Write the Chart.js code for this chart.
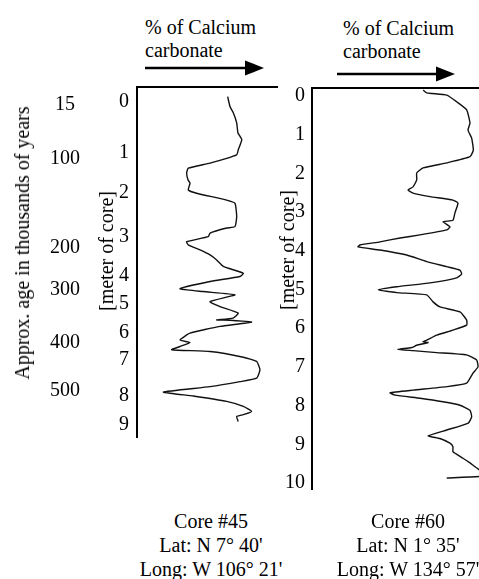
<!DOCTYPE html>
<html>
<head>
<meta charset="utf-8">
<title>Calcium carbonate in cores #45 and #60</title>
<script src="https://cdn.jsdelivr.net/npm/chart.js"></script>
<style>
  body { margin: 0; background: #fff; }
  #page { position: relative; width: 479px; height: 579px; overflow: hidden;
          font-family: "Liberation Serif", "Times New Roman", serif; color: #000; }
  .txt { position: absolute; font-size: 20px; line-height: 22px; white-space: nowrap; }
  .rot { transform: translate(-50%, -50%) rotate(-90deg); }
  .ctr { transform: translateX(-50%); text-align: center; line-height: 24px; }
  canvas { position: absolute; }
</style>
</head>
<body>
<div id="page">
  <div class="txt" style="left:145px;top:16px">% of Calcium</div>
  <div class="txt" style="left:145px;top:39px">carbonate</div>
  <div class="txt" style="left:343px;top:17px">% of Calcium</div>
  <div class="txt" style="left:343px;top:40px">carbonate</div>
  <svg width="479" height="90" style="position:absolute;left:0;top:0">
    <line x1="145" y1="68" x2="250" y2="68" stroke="#000" stroke-width="2.4"/>
    <polygon points="264,68 245,60.5 245,75.5" fill="#000"/>
    <line x1="337" y1="74" x2="441" y2="74" stroke="#000" stroke-width="2.4"/>
    <polygon points="455,74 436,66.5 436,81.5" fill="#000"/>
  </svg>

  <canvas id="core45" width="278" height="359" style="left:0;top:79px"></canvas>
  <canvas id="core60" width="207" height="410" style="left:272px;top:80px"></canvas>

  <div class="txt rot" style="left:22px;top:243px">Approx. age in thousands of years</div>
  <div class="txt rot" style="left:106px;top:251px">[meter of core]</div>
  <div class="txt rot" style="left:287px;top:250px">[meter of core]</div>

  <div class="txt ctr" style="left:211px;top:509px">Core #45<br>Lat: N 7° 40'<br>Long: W 106° 21'</div>
  <div class="txt ctr" style="left:408px;top:509px">Core #60<br>Lat: N 1° 35'<br>Long: W 134° 57'</div>
</div>

<script>
// Core #45: the depth axis in the sketch is uneven, so labels sit where drawn
const depthLabels45 = ['0', '1', '2', '3', '4', '5', '6', '7', '8', '9'];
const depthTicks45 = [0.04, 1.46, 2.6, 3.8, 4.91, 5.69, 6.5, 7.25, 8.23, 9.04];
const ageLabels = ['15', '100', '200', '300', '400', '500'];
const ageTicks = [0.13, 1.64, 4.11, 5.28, 6.76, 8.1];

const depth45 = [-0.09, 0.19, 0.36, 0.64, 0.92, 1.11, 1.39, 1.53, 1.76, 1.90,
  2.04, 2.23, 2.32, 2.51, 2.60, 2.79, 2.88, 3.25, 3.53, 3.57,
  3.71, 3.81, 3.95, 4.04, 4.18, 4.32, 4.46, 4.64, 4.83, 4.92,
  5.06, 5.26, 5.34, 5.43, 5.62, 5.76, 5.94, 6.08, 6.13, 6.14,
  6.19, 6.31, 6.50, 6.69, 6.76, 6.87, 6.96, 7.01, 7.17, 7.29,
  7.52, 7.75, 7.85, 7.99, 8.14, 8.25, 8.40, 8.54, 8.68, 8.77,
  8.82, 8.96];
const caco3_45 = [64.3, 66.0, 68.3, 70.7, 71.6, 74.3, 71.8, 70.7, 51.8, 36.4,
  35.2, 36.2, 37.6, 36.4, 42.3, 63.6, 69.5, 70.7, 69.5, 63.6,
  51.8, 50.6, 35.2, 36.4, 44.7, 51.8, 56.5, 61.2, 75.4, 73.0,
  51.8, 30.5, 46.8, 69.5, 51.8, 58.9, 71.8, 68.1, 56.5, 66.0,
  81.3, 58.9, 37.6, 30.5, 37.6, 30.5, 24.6, 51.8, 75.4, 84.9,
  87.2, 84.9, 73.0, 51.8, 18.7, 39.9, 63.6, 75.4, 81.3, 75.4,
  70.7, 71.8];

// Core #60
const depthLabels60 = ['0', '1', '2', '3', '4', '5', '6', '7', '8', '9', '10'];
const depth60 = [-0.10, -0.03, 0.03, 0.20, 0.41, 0.75, 0.93, 1.14, 1.45, 1.62,
  1.78, 1.91, 2.04, 2.22, 2.40, 2.48, 2.56, 2.65, 2.74, 2.82,
  3.07, 3.26, 3.30, 3.43, 3.51, 3.64, 3.72, 3.82, 3.90, 3.95,
  4.03, 4.16, 4.33, 4.46, 4.55, 4.65, 4.75, 4.88, 4.98, 5.06,
  5.13, 5.19, 5.37, 5.50, 5.63, 5.84, 5.97, 6.10, 6.23, 6.36,
  6.40, 6.42, 6.49, 6.55, 6.60, 6.63, 6.68, 6.74, 6.87, 7.05,
  7.21, 7.47, 7.56, 7.65, 7.72, 7.78, 7.86, 7.95, 8.04, 8.17,
  8.34, 8.50, 8.68, 8.83, 8.90, 9.02, 9.11, 9.24, 9.33, 9.41,
  9.53, 9.72, 9.82, 9.88, 9.92];
const caco3_60 = [66.6, 68.7, 80.7, 86.6, 92.6, 94.6, 93.4, 95.6, 96.6, 94.6,
  80.7, 66.5, 62.7, 62.7, 60.5, 57.5, 60.5, 70.7, 84.4, 87.4,
  85.6, 84.4, 78.4, 82.6, 80.7, 64.7, 52.7, 40.7, 28.7, 27.5,
  40.7, 56.7, 68.7, 80.7, 88.6, 89.6, 86.6, 70.7, 50.7, 39.7,
  50.7, 68.7, 72.5, 76.6, 88.6, 92.6, 92.6, 84.4, 74.7, 68.7,
  66.5, 69.5, 62.7, 59.7, 51.5, 60.5, 74.7, 92.6, 98.6, 99.4,
  96.4, 92.6, 80.7, 60.5, 46.7, 49.7, 64.7, 78.4, 88.6, 94.6,
  95.6, 93.6, 80.7, 69.6, 76.6, 82.6, 84.4, 84.4, 87.4, 90.4,
  94.6, 100.6, 107.8, 100.6, 80.7];

const serif = { family: 'Liberation Serif', size: 20 };

function curve(depth, pct) {
  return [{
    data: depth.map((d, i) => ({ x: pct[i], y: d })),
    showLine: true,
    borderColor: '#111',
    borderWidth: 1.4,
    pointRadius: 0,
    tension: 0.15
  }];
}

// top border line only, no ticks
function topAxis() {
  return {
    type: 'linear', position: 'top', min: 0, max: 100,
    ticks: { display: false },
    grid: { display: false, drawTicks: false },
    border: { display: true, color: '#000', width: 2 },
    afterFit: s => { s.height = 8; }
  };
}

// fixed axis width, and no extra room reserved for the end labels
function fixWidth(w) {
  return s => { s.width = w; s.paddingTop = 0; s.paddingBottom = 0; };
}

new Chart(document.getElementById('core45'), {
  type: 'scatter',
  data: { datasets: curve(depth45, caco3_45) },
  options: {
    responsive: false,
    animation: false,
    layout: { padding: 0 },
    plugins: { legend: { display: false }, tooltip: { enabled: false } },
    scales: {
      x: topAxis(),
      y: {
        type: 'linear', position: 'left', reverse: true, weight: 0,
        min: -0.36, max: 9.42,
        grid: { display: false, drawTicks: false },
        border: { display: true, color: '#000', width: 2 },
        afterBuildTicks: s => { s.ticks = depthTicks45.map(v => ({ value: v })); },
        ticks: { color: '#000', font: serif, padding: 8, autoSkip: false,
                 callback: (v, i) => depthLabels45[i] },
        afterFit: fixWidth(54)
      },
      age: {
        type: 'linear', position: 'left', reverse: true, weight: 1,
        min: -0.36, max: 9.42,
        grid: { display: false, drawTicks: false },
        border: { display: false },
        afterBuildTicks: s => { s.ticks = ageTicks.map(v => ({ value: v })); },
        ticks: { color: '#000', font: serif, padding: 3, autoSkip: false, crossAlign: 'center',
                 callback: (v, i) => ageLabels[i] },
        afterFit: fixWidth(83)
      }
    }
  }
});

new Chart(document.getElementById('core60'), {
  type: 'scatter',
  data: { datasets: curve(depth60, caco3_60) },
  options: {
    responsive: false,
    animation: false,
    layout: { padding: 0 },
    plugins: { legend: { display: false }, tooltip: { enabled: false } },
    scales: {
      x: topAxis(),
      y: {
        type: 'linear', position: 'left', reverse: true,
        min: -0.155, max: 10.23,
        grid: { display: false, drawTicks: false },
        border: { display: true, color: '#000', width: 2 },
        afterBuildTicks: s => { s.ticks = depthLabels60.map(l => ({ value: Number(l) + 0.05 })); },
        ticks: { color: '#000', font: serif, padding: 7, autoSkip: false,
                 callback: (v, i) => depthLabels60[i] },
        afterFit: fixWidth(40)
      }
    }
  }
});
</script>
</body>
</html>
